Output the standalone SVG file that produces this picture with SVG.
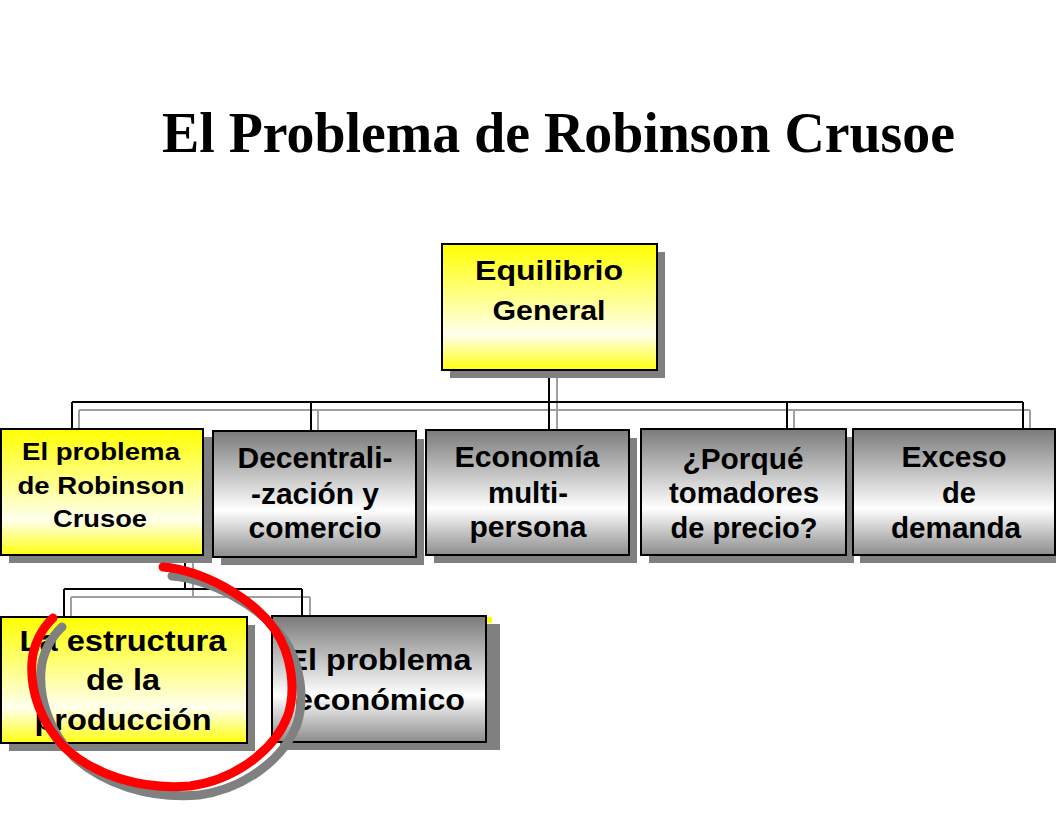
<svg xmlns="http://www.w3.org/2000/svg" width="1056" height="816" viewBox="0 0 1056 816">
<defs>
<linearGradient id="gy" x1="0" y1="0" x2="0" y2="1">
<stop offset="0" stop-color="#ffff00"/>
<stop offset="0.72" stop-color="#ffffee"/>
<stop offset="1" stop-color="#ffff10"/>
</linearGradient>
<linearGradient id="gg" x1="0" y1="0" x2="0" y2="1">
<stop offset="0" stop-color="#7a7a7a"/>
<stop offset="0.63" stop-color="#ffffff"/>
<stop offset="1" stop-color="#8c8c8c"/>
</linearGradient>
<style>
.sh{fill:#808080}
.by{fill:url(#gy);stroke:#000;stroke-width:2}
.bg{fill:url(#gg);stroke:#000;stroke-width:2}
.t{font-family:"Liberation Sans",Arial,sans-serif;font-weight:bold;text-anchor:middle;fill:#000}
.c{stroke:#000;stroke-width:2;fill:none}
.cs{stroke:#a0a0a0;stroke-width:2;fill:none}
</style>
</defs>
<rect width="1056" height="816" fill="#fff"/>
<text x="162" y="152" font-family="'Liberation Serif','Times New Roman',serif" font-weight="bold" font-size="57" textLength="793" lengthAdjust="spacingAndGlyphs">El Problema de Robinson Crusoe</text>
<g id="connectors">
<path class="cs" d="M557,378V410M79,410H1030M79,410V430M318,410V432M557,410V431M794,410V430M1030,410V430"/>
<path class="c" d="M549,370V402M72,402H1023M72,402V430M311,402V432M549,402V431M787,402V430M1023,402V430"/>
<path class="cs" d="M193,563V597M71,597H310M71,597V618M310,597V617"/>
<path class="c" d="M185,556V589M64,589H302M64,589V618M302,589V617"/>
</g>
<g id="n0">
<rect class="sh" x="450" y="252" width="215" height="126"/>
<rect class="by" x="442" y="244" width="215" height="126"/>
<text class="t" font-size="28"><tspan x="549" y="280" textLength="148" lengthAdjust="spacingAndGlyphs">Equilibrio</tspan><tspan x="549" y="320" textLength="113" lengthAdjust="spacingAndGlyphs">General</tspan></text>
</g>
<g id="n1">
<rect class="sh" x="9" y="437" width="203" height="126"/>
<rect class="by" x="1" y="429" width="202" height="126"/>
<text class="t" font-size="23"><tspan x="101" y="460" textLength="158" lengthAdjust="spacingAndGlyphs">El problema</tspan><tspan x="101" y="494" textLength="167" lengthAdjust="spacingAndGlyphs">de Robinson</tspan><tspan x="100" y="527" textLength="94" lengthAdjust="spacingAndGlyphs">Crusoe</tspan></text>
</g>
<g id="n2">
<rect class="sh" x="221" y="439" width="203" height="126"/>
<rect class="bg" x="213" y="431" width="203" height="126"/>
<text class="t" font-size="30"><tspan x="315" y="468" textLength="155" lengthAdjust="spacingAndGlyphs">Decentrali-</tspan><tspan x="315" y="504" textLength="128" lengthAdjust="spacingAndGlyphs">-zación y</tspan><tspan x="315" y="538" textLength="133" lengthAdjust="spacingAndGlyphs">comercio</tspan></text>
</g>
<g id="n3">
<rect class="sh" x="434" y="438" width="203" height="125"/>
<rect class="bg" x="426" y="430" width="203" height="125"/>
<text class="t" font-size="30"><tspan x="527" y="467" textLength="145" lengthAdjust="spacingAndGlyphs">Economía</tspan><tspan x="528" y="503" textLength="80" lengthAdjust="spacingAndGlyphs">multi-</tspan><tspan x="528" y="537" textLength="117" lengthAdjust="spacingAndGlyphs">persona</tspan></text>
</g>
<g id="n4">
<rect class="sh" x="649" y="437" width="205" height="126"/>
<rect class="bg" x="641" y="429" width="205" height="126"/>
<text class="t" font-size="30"><tspan x="743" y="469" textLength="121" lengthAdjust="spacingAndGlyphs">¿Porqué</tspan><tspan x="744" y="503" textLength="150" lengthAdjust="spacingAndGlyphs">tomadores</tspan><tspan x="744" y="538" textLength="147" lengthAdjust="spacingAndGlyphs">de precio?</tspan></text>
</g>
<g id="n5">
<rect class="sh" x="860" y="437" width="203" height="126"/>
<rect class="bg" x="853" y="429" width="202" height="126"/>
<text class="t" font-size="30"><tspan x="954" y="467" textLength="105" lengthAdjust="spacingAndGlyphs">Exceso</tspan><tspan x="959" y="503" textLength="34" lengthAdjust="spacingAndGlyphs">de</tspan><tspan x="956" y="538" textLength="130" lengthAdjust="spacingAndGlyphs">demanda</tspan></text>
</g>
<g id="n6">
<rect class="sh" x="9" y="625" width="246" height="126"/>
<rect class="by" x="1" y="617" width="246" height="126"/>
<text class="t" font-size="30"><tspan x="123" y="651" textLength="207" lengthAdjust="spacingAndGlyphs">La estructura</tspan><tspan x="123" y="690" textLength="74" lengthAdjust="spacingAndGlyphs">de la</tspan><tspan x="123" y="730" textLength="177" lengthAdjust="spacingAndGlyphs">producción</tspan></text>
</g>
<g id="n7">
<rect x="487" y="617" width="5" height="6" fill="#ffff00"/>
<rect class="sh" x="280" y="624" width="220" height="126"/>
<rect class="bg" x="272" y="616" width="214" height="126"/>
<text class="t" font-size="30"><tspan x="379" y="670" textLength="185" lengthAdjust="spacingAndGlyphs">El problema</tspan><tspan x="380" y="710" textLength="170" lengthAdjust="spacingAndGlyphs">económico</tspan></text>
</g>
<g id="annotation" fill="none" stroke-width="9" stroke-linecap="round" stroke-linejoin="round">
<path transform="translate(9,9)" stroke="#808080" d="M163,567 C200,570 250,595 275,630 C292,655 296,690 288,715 C275,750 235,780 190,786 C140,790 95,775 65,748 C40,722 30,690 32,662 C33,645 42,628 53,618"/>
<path stroke="#ff0000" d="M163,567 C200,570 250,595 275,630 C292,655 296,690 288,715 C275,750 235,780 190,786 C140,790 95,775 65,748 C40,722 30,690 32,662 C33,645 42,628 53,618"/>
</g>
</svg>
